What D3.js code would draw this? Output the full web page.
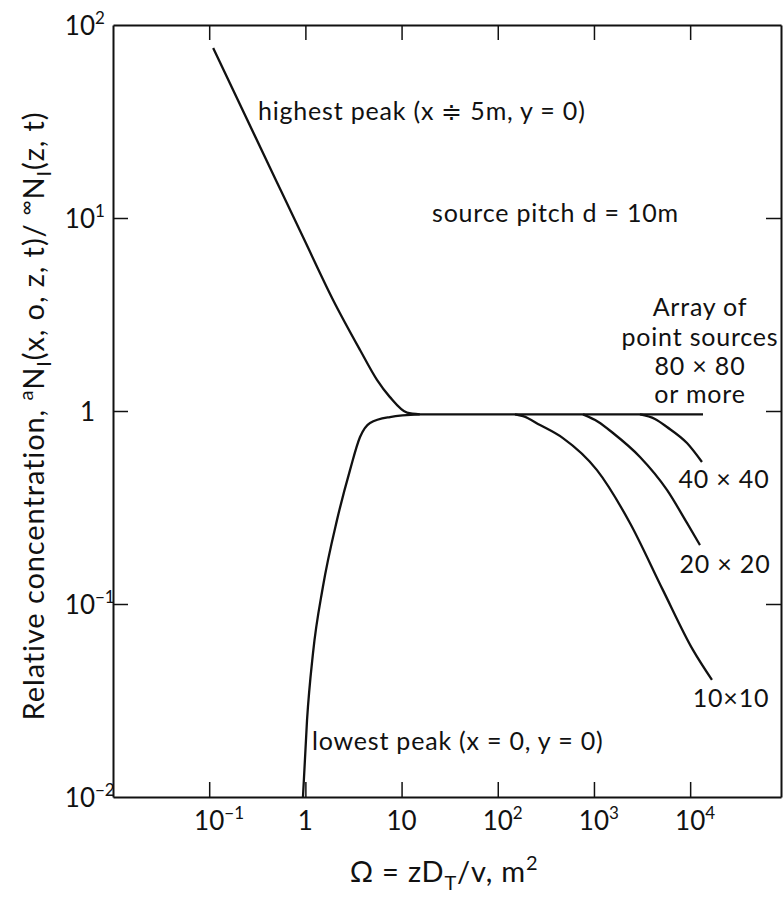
<!DOCTYPE html>
<html>
<head>
<meta charset="utf-8">
<script src="https://cdn.jsdelivr.net/npm/d3@7/dist/d3.min.js"></script>
<style>
body { margin: 0; background: #fff; }
text { font-family: Lato, "Open Sans", sans-serif; fill: #111; }
</style>
</head>
<body>
<div id="chart"></div>
<script>
///data (x = Omega in m^2, y = relative concentration)
const highestX = [0.11, 0.5, 1, 1.94, 3.7, 5.55, 7.57, 11.4, 15.5];
const highestY = [76, 15.5, 7.5, 3.76, 2.07, 1.45, 1.18, 0.98, 0.96];
const lowestX = [0.944, 1.04, 1.2, 1.52, 2.13, 2.91, 3.7, 4.7, 7.57, 15.5];
const lowestY = [0.01, 0.025, 0.0557, 0.1225, 0.272, 0.494, 0.733, 0.867, 0.93, 0.96];
const array80X = [15.5, 13600];
const array80Y = [0.96, 0.96];
const array40X = [3009, 4305, 5741, 9267, 13270];
const array40Y = [0.96, 0.91, 0.826, 0.682, 0.544];
const array20X = [769, 1101, 1577, 3009, 5741, 9267, 12650];
const array20Y = [0.96, 0.88, 0.769, 0.578, 0.39, 0.263, 0.202];
const array10X = [151, 183, 275, 476, 1075, 2366, 5213, 10690, 16860];
const array10Y = [0.96, 0.94, 0.846, 0.724, 0.494, 0.263, 0.118, 0.0578, 0.0404];

const xTicks = [0.1, 1, 10, 100, 1000, 10000];
const xTickBase = ["10", "1", "10", "10", "10", "10"];
const xTickSup = ["\u22121", "", "", "2", "3", "4"];
const yTicks = [100, 10, 1, 0.1, 0.01];
const yTickBase = ["10", "10", "1", "10", "10"];
const yTickSup = ["2", "1", "", "\u22121", "\u22122"];
const xMin = 0.01, xMax = 8.8e4, yMin = 0.01, yMax = 100;

///vars
const w = 784, h = 898;
const padL = 113, padR = 781, padT = 25, padB = 797;
const tickLen = 15;

const svg = d3.select("#chart").append("svg").
attr("width", w).
attr("height", h).
style("display", "block");

svg.append("rect").attr("width", w).attr("height", h).attr("fill", "#fff");

const x = d3.scaleLog().domain([xMin, xMax]).range([padL, padR]);
const y = d3.scaleLog().domain([yMin, yMax]).range([padB, padT]);

///axes, ticks pointing inward on all four sides
const axisStyle = g => {
  g.select(".domain").attr("stroke", "#111").attr("stroke-width", 2);
  g.selectAll(".tick line").attr("stroke", "#111").attr("stroke-width", 1.5);
  g.selectAll(".tick text").remove();
};
svg.append("g").attr("transform", `translate(0,${padB})`).
call(d3.axisBottom(x).tickValues(xTicks).tickSize(-tickLen).tickSizeOuter(0)).call(axisStyle);
svg.append("g").attr("transform", `translate(0,${padT})`).
call(d3.axisTop(x).tickValues(xTicks).tickSize(-tickLen).tickSizeOuter(0)).call(axisStyle);
svg.append("g").attr("transform", `translate(${padL},0)`).
call(d3.axisLeft(y).tickValues(yTicks.slice(1, 4)).tickSize(-tickLen).tickSizeOuter(0)).call(axisStyle);
svg.append("g").attr("transform", `translate(${padR},0)`).
call(d3.axisRight(y).tickValues(yTicks.slice(1, 4)).tickSize(-tickLen).tickSizeOuter(0)).call(axisStyle);

///tick labels with superscripts
function powLabel(px, py, base, sup, anchor) {
  const t = svg.append("text").attr("y", py).style("font-size", "26px");
  const b = t.append("tspan").text(base);
  if (sup) t.append("tspan").attr("dy", -11).style("font-size", "17px").text(sup);
  const bw = b.node().getComputedTextLength();
  t.attr("x", anchor === "middle" ? px - bw / 2 : px - bw);
}
xTicks.forEach((v, i) => powLabel(x(v), 830, xTickBase[i], xTickSup[i], "middle"));
yTicks.forEach((v, i) => powLabel(95, y(v) + 10, yTickBase[i], yTickSup[i], "end"));

///curves
const line = d3.line().
x(d => x(d[0])).
y(d => y(d[1])).
curve(d3.curveMonotoneX);
const series = [
[highestX, highestY],
[lowestX, lowestY],
[array80X, array80Y],
[array40X, array40Y],
[array20X, array20Y],
[array10X, array10Y]];

svg.append("g").selectAll("path").
data(series.map(s => s[0].map((v, i) => [v, s[1][i]]))).
join("path").
attr("d", line).
attr("fill", "none").
attr("stroke", "#111").
attr("stroke-width", 2.3).
attr("stroke-linejoin", "round");

///annotations
const note = (tx, ty, str, anchor) => svg.append("text").
attr("x", tx).attr("y", ty).
attr("text-anchor", anchor || "start").
style("font-size", "25px").
style("letter-spacing", "0.8px").
text(str);
note(258, 120, "highest peak (x \u2251 5m, y = 0)");
note(432, 222, "source pitch d = 10m");
note(700, 316, "Array of", "middle");
note(700, 346, "point sources", "middle");
note(700, 375, "80 \u00d7 80", "middle");
note(700, 403, "or more", "middle");
note(724, 488, "40 \u00d7 40", "middle");
note(725, 573, "20 \u00d7 20", "middle");
note(731, 707, "10\u00d710", "middle");
note(312, 750, "lowest peak (x = 0,  y = 0)");

///axis titles
const xt = svg.append("text").
attr("x", 444).attr("y", 882).
attr("text-anchor", "middle").
style("font-size", "29px").
style("letter-spacing", "0.8px");
xt.append("tspan").text("\u03a9 = zD");
xt.append("tspan").attr("dy", 8).style("font-size", "20px").text("T");
xt.append("tspan").attr("dy", -8).text("/v, m");
xt.append("tspan").attr("dy", -12).style("font-size", "20px").text("2");

const yt = svg.append("text").
attr("transform", "translate(44,416) rotate(-90)").
attr("text-anchor", "middle").
style("font-size", "29px").
style("letter-spacing", "0.9px");
yt.append("tspan").text("Relative concentration,  ");
yt.append("tspan").attr("dy", -11).style("font-size", "20px").text("a");
yt.append("tspan").attr("dy", 11).text("N");
yt.append("tspan").attr("dy", 7).style("font-size", "20px").text("I");
yt.append("tspan").attr("dy", -7).text("(x, o, z, t)/ ");
yt.append("tspan").attr("dy", -11).style("font-size", "20px").text("\u221e");
yt.append("tspan").attr("dy", 11).text("N");
yt.append("tspan").attr("dy", 7).style("font-size", "20px").text("I");
yt.append("tspan").attr("dy", -7).text("(z, t)");
</script>
</body>
</html>
